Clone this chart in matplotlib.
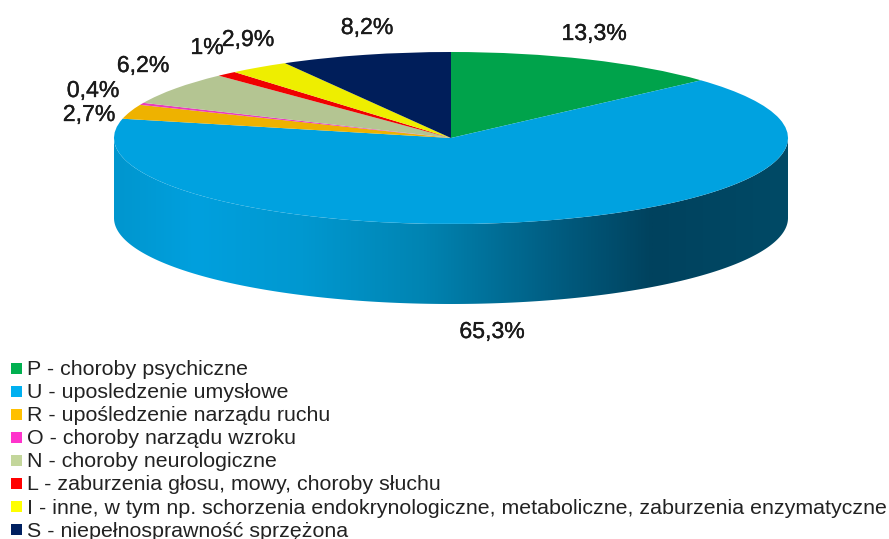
import numpy as np
import matplotlib
matplotlib.use("Agg")
import matplotlib.pyplot as plt
import matplotlib.patheffects as pe
from matplotlib.colors import LinearSegmentedColormap
from matplotlib.patches import Polygon, Rectangle

plt.rcParams['font.family'] = ['Liberation Sans', 'DejaVu Sans']

W, H = 889, 539
categories = ["P - choroby psychiczne", "U - uposledzenie umysłowe",
              "R - upośledzenie narządu ruchu", "O - choroby narządu wzroku",
              "N - choroby neurologiczne", "L - zaburzenia głosu, mowy, choroby słuchu",
              "I - inne, w tym np. schorzenia endokrynologiczne, metaboliczne, zaburzenia enzymatyczne",
              "S - niepełnosprawność sprzężona"]
values = [13.3, 65.3, 2.7, 0.4, 6.2, 1.0, 2.9, 8.2]
value_labels = ["13,3%", "65,3%", "2,7%", "0,4%", "6,2%", "1%", "2,9%", "8,2%"]
top_colors = ["#00A34B", "#00A2E0", "#EEB200", "#E93CBC", "#B4C592", "#F00000", "#EEEE00", "#001E5A"]
legend_colors = ["#00B050", "#00B0F0", "#FFC000", "#FF33CC", "#C3D69B", "#FF0000", "#FFFF00", "#002060"]
label_px = [(594, 40), (492, 338), (89, 121), (93, 97), (143, 72), (207, 54), (248, 46), (367, 34)]
side_stops = [(0.0, "#0096CE"), (0.12, "#00A0DE"), (0.28, "#0098D0"), (0.46, "#0084B2"),
              (0.66, "#005C80"), (0.80, "#00425E"), (1.0, "#004A66")]

CX, CY, RX, RY, DEPTH = 451, 138, 337, 86, 80

fig = plt.figure(figsize=(W / 100, H / 100), dpi=100, facecolor="white")
ax = fig.add_axes([0, 0, 1, 1])

ax.pie(values, colors=top_colors, startangle=90, counterclock=False, radius=1,
       wedgeprops=dict(linewidth=0, zorder=3))
ax.set_aspect("auto")
ax.axis("off")

# extruded side of the pie
d = DEPTH / RY
t = np.linspace(0, np.pi, 300)
xs = np.cos(t)
ys = -np.sin(t)
verts = np.vstack([np.c_[xs, ys], np.c_[xs[::-1], ys[::-1] - d]])
poly = Polygon(verts, closed=True, transform=ax.transData, fc="none", ec="none")
ax.add_patch(poly)
cmap = LinearSegmentedColormap.from_list("side", side_stops)
grad = np.linspace(0, 1, 512).reshape(1, -1)
im = ax.imshow(grad, cmap=cmap, extent=(-1, 1, -1 - d - 0.01, 0.01), aspect="auto", zorder=2,
               interpolation="bilinear")
im.set_clip_path(poly)
ax.set_xlim((0 - CX) / RX, (W - CX) / RX)
ax.set_ylim((CY - H) / RY, CY / RY)


def tx(x, y):
    return x / W, 1 - y / H


for lab, (x, y) in zip(value_labels, label_px):
    fig.text(*tx(x, y), lab, fontsize=16.6, color="#1a1a1a", ha="center", va="baseline",
             path_effects=[pe.withStroke(linewidth=0.25, foreground="#1a1a1a")])

# legend
for i, (name, col) in enumerate(zip(categories, legend_colors)):
    fig.add_artist(Rectangle((11 / W, 1 - (374 + i * 23) / H), 11 / W, 11 / H,
                             transform=fig.transFigure, fc=col, ec="none"))
    fig.text(27 / W, 1 - (375 + i * 23.1) / H, name, fontsize=15.4, color="#222222",
             ha="left", va="baseline")

fig.savefig("out.png", dpi=100, facecolor="white")
